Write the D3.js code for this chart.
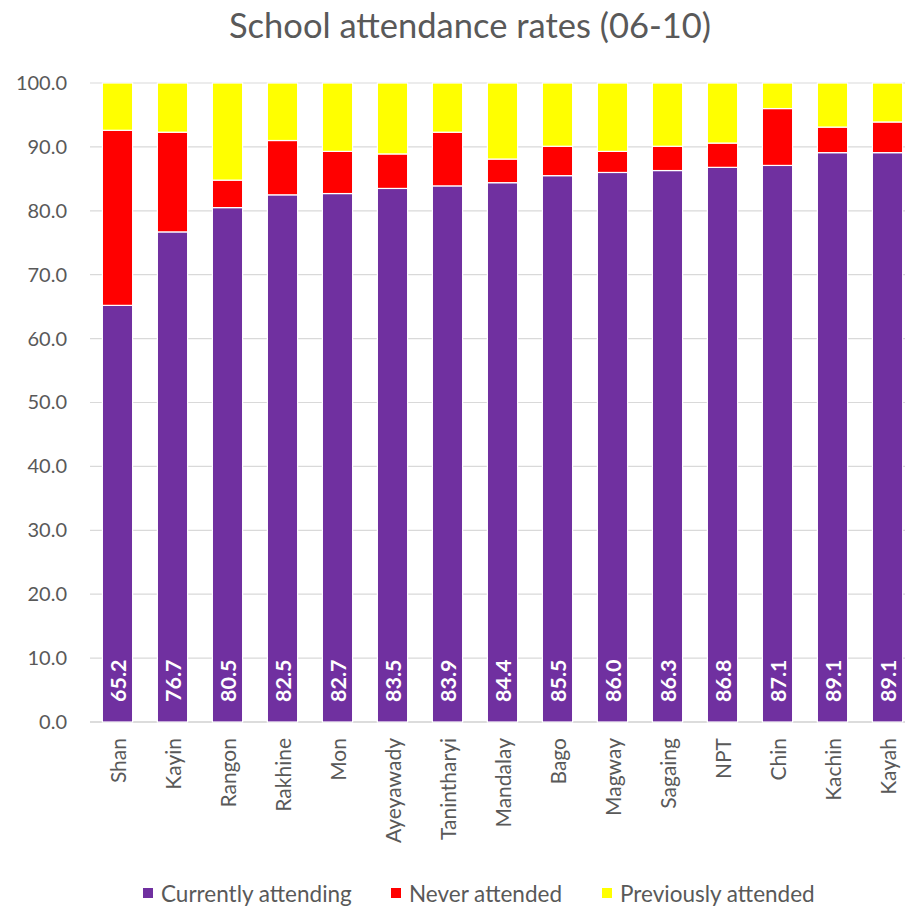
<!DOCTYPE html>
<html>
<head>
<meta charset="utf-8">
<script src="https://cdn.jsdelivr.net/npm/d3@7"></script>
<style>
  body { margin: 0; background: #fff; }
  svg { display: block; }
  text { font-family: Lato, "Open Sans", sans-serif; }
</style>
</head>
<body>
<svg id="chart" width="905" height="906"></svg>
<script>
// Regions, ordered by share currently attending
const regions = ["Shan", "Kayin", "Rangon", "Rakhine", "Mon", "Ayeyawady", "Tanintharyi",
  "Mandalay", "Bago", "Magway", "Sagaing", "NPT", "Chin", "Kachin", "Kayah"];
const currentlyAttending = [65.2, 76.7, 80.5, 82.5, 82.7, 83.5, 83.9, 84.4, 85.5, 86.0, 86.3, 86.8, 87.1, 89.1, 89.1];
const neverAttended = [27.4, 15.6, 4.3, 8.5, 6.6, 5.4, 8.4, 3.7, 4.6, 3.3, 3.8, 3.8, 8.9, 4.0, 4.8];
const previouslyAttended = [7.4, 7.7, 15.2, 9.0, 10.7, 11.1, 7.7, 11.9, 9.9, 10.7, 9.9, 9.4, 4.0, 6.9, 6.1];
const seriesNames = ["Currently attending", "Never attended", "Previously attended"];
const seriesColors = ["#7030A0", "#FF0000", "#FFFF00"];
const yTicks = [0, 10, 20, 30, 40, 50, 60, 70, 80, 90, 100];
const title = "School attendance rates (06-10)";

const svg = d3.select("#chart");
const margin = { left: 90, right: -10, top: 83, bottom: 184 };
const W = 905, H = 906;

const x = d3.scaleBand().domain(regions)
  .range([margin.left, W - margin.right]).paddingInner(0.45).paddingOuter(0.225);
const y = d3.scaleLinear().domain([0, 100]).range([H - margin.bottom, margin.top]);

const rows = regions.map((r, i) => ({
  region: r,
  s0: currentlyAttending[i],
  s1: neverAttended[i],
  s2: previouslyAttended[i]
}));
const stacked = d3.stack().keys(["s0", "s1", "s2"])(rows);

// Title
svg.append("text")
  .attr("x", 470).attr("y", 38)
  .attr("text-anchor", "middle")
  .attr("fill", "#595959")
  .attr("font-size", 34.5)
  .text(title);

// Gridlines
svg.append("g").selectAll("line").data(yTicks).join("line")
  .attr("x1", margin.left).attr("x2", W - margin.right)
  .attr("y1", d => y(d)).attr("y2", d => y(d))
  .attr("stroke", d => d === 0 ? "#d0d0d0" : "#d9d9d9")
  .attr("stroke-width", d => d === 0 ? 1.5 : 1.2);

// Y axis labels
const yAxis = d3.axisLeft(y).tickValues(yTicks).tickFormat(d3.format(".1f")).tickSize(0).tickPadding(0);
const gy = svg.append("g").attr("transform", `translate(67,0)`).call(yAxis);
gy.select(".domain").remove();
gy.selectAll("text")
  .attr("fill", "#595959").attr("font-size", 20)
  .attr("font-family", "Lato, 'Open Sans', sans-serif");

// Stacked bars
svg.append("g").selectAll("g").data(stacked).join("g")
  .attr("fill", (d, i) => seriesColors[i])
  .selectAll("rect").data(d => d).join("rect")
  .attr("x", d => x(d.data.region))
  .attr("width", x.bandwidth())
  .attr("y", d => y(d[1]))
  .attr("height", d => y(d[0]) - y(d[1]))
  .attr("stroke", "#fff").attr("stroke-width", 1.2);

// Value labels on the currently-attending segment
svg.append("g").selectAll("text").data(rows).join("text")
  .attr("transform", d => `translate(${x(d.region) + x.bandwidth() / 2 + 8},${y(0) - 20}) rotate(-90)`)
  .attr("fill", "#fff").attr("font-weight", "bold").attr("font-size", 21.5)
  .text(d => d3.format(".1f")(d.s0));

// Category labels
svg.append("g").selectAll("text").data(regions).join("text")
  .attr("transform", d => `translate(${x(d) + x.bandwidth() / 2 + 8},${y(0) + 16}) rotate(-90)`)
  .attr("text-anchor", "end")
  .attr("fill", "#595959").attr("font-size", 21)
  .text(d => d);

// Legend
const legendX = [143, 391, 602];
const lg = svg.append("g").selectAll("g").data(seriesNames).join("g")
  .attr("transform", (d, i) => `translate(${legendX[i]},893)`);
lg.append("rect").attr("x", 0).attr("y", -5).attr("width", 10).attr("height", 10)
  .attr("fill", (d, i) => seriesColors[i]);
lg.append("text").attr("x", 18).attr("y", 9)
  .attr("fill", "#595959").attr("font-size", 22.5)
  .text(d => d);
</script>
</body>
</html>
